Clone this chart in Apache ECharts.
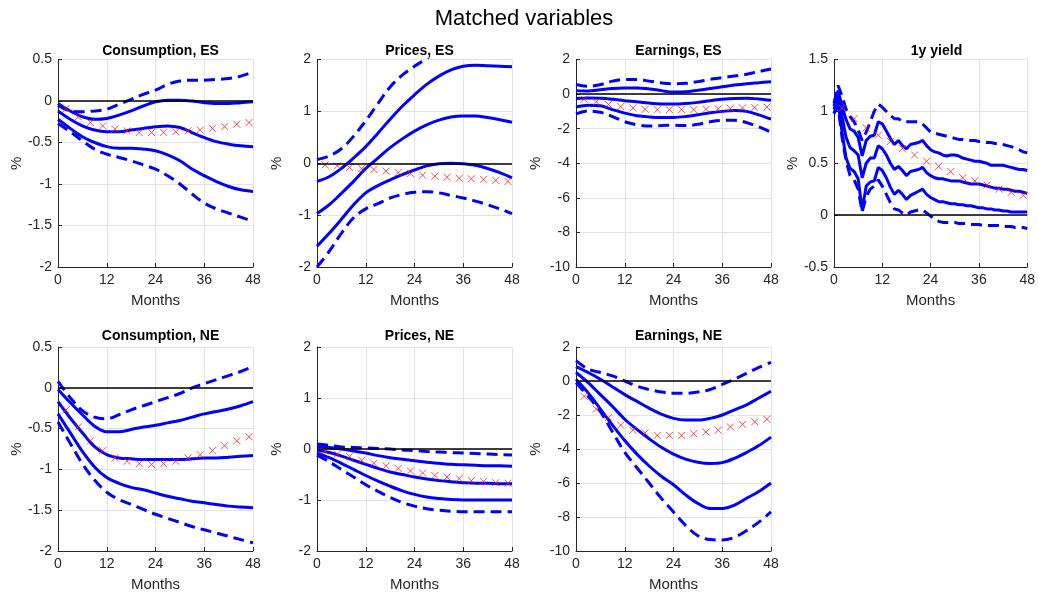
<!DOCTYPE html>
<html>
<head>
<meta charset="utf-8">
<title>Matched variables</title>
<script src="https://cdn.jsdelivr.net/npm/echarts@6/dist/echarts.min.js"></script>
<style>
    html, body { margin: 0; padding: 0; background: #fff; }
    #chart { width: 1038px; height: 594px; }
</style>
</head>
<body>
<div id="chart"></div>
<script>

    // horizons (months)
    const MONTHS = [0, 3, 6, 9, 12, 15, 18, 21, 24, 27, 30, 33, 36, 39, 42, 45, 48];
    const MONTHS_ALL = [0, 1, 2, 3, 4, 5, 6, 7, 8, 9, 10, 11, 12, 13, 14, 15, 16, 17, 18, 19, 20, 21, 22, 23, 24,
        25, 26, 27, 28, 29, 30, 31, 32, 33, 34, 35, 36, 37, 38, 39, 40, 41, 42, 43, 44, 45, 46, 47, 48];
    const MARKER_MONTHS = [2, 5, 8, 11, 14, 17, 20, 23, 26, 29, 32, 35, 38, 41, 44, 47];

    // Consumption, ES
    const consEsHiDash = [-0.05, -0.12, -0.13, -0.12, -0.1, -0.04, 0.02, 0.08, 0.13, 0.2, 0.24, 0.25, 0.25, 0.26, 0.27, 0.3, 0.35];
    const consEsHi = [-0.03, -0.12, -0.19, -0.22, -0.21, -0.17, -0.12, -0.06, -0.01, 0.01, 0.01, 0.0, -0.02, -0.03, -0.03, -0.02, -0.01];
    const consEsMid = [-0.12, -0.22, -0.3, -0.35, -0.37, -0.37, -0.35, -0.33, -0.31, -0.3, -0.32, -0.38, -0.44, -0.49, -0.52, -0.54, -0.55];
    const consEsLo = [-0.22, -0.33, -0.43, -0.5, -0.55, -0.57, -0.57, -0.58, -0.6, -0.65, -0.72, -0.82, -0.9, -0.97, -1.03, -1.07, -1.09];
    const consEsLoDash = [-0.27, -0.37, -0.48, -0.58, -0.64, -0.68, -0.72, -0.77, -0.82, -0.9, -1.0, -1.12, -1.23, -1.3, -1.35, -1.4, -1.45];
    const consEsTarget = [-0.09, -0.19, -0.26, -0.3, -0.34, -0.36, -0.38, -0.38, -0.38, -0.37, -0.36, -0.35, -0.33, -0.31, -0.28, -0.26];

    // Prices, ES
    const pricesEsHiDash = [0.07, 0.14, 0.28, 0.52, 0.82, 1.15, 1.47, 1.7, 1.87, 2.02, 2.2, 2.35, 2.5, 2.6, 2.7, 2.75, 2.8];
    const pricesEsHi = [-0.35, -0.26, -0.1, 0.1, 0.32, 0.58, 0.85, 1.1, 1.32, 1.52, 1.68, 1.8, 1.87, 1.89, 1.88, 1.87, 1.86];
    const pricesEsMid = [-0.97, -0.8, -0.58, -0.35, -0.1, 0.1, 0.3, 0.47, 0.62, 0.74, 0.83, 0.89, 0.91, 0.91, 0.88, 0.84, 0.79];
    const pricesEsLo = [-1.6, -1.35, -1.08, -0.8, -0.57, -0.43, -0.32, -0.22, -0.13, -0.05, -0.01, 0.0, -0.01, -0.04, -0.1, -0.18, -0.28];
    const pricesEsLoDash = [-2.0, -1.7, -1.35, -1.05, -0.88, -0.78, -0.67, -0.6, -0.56, -0.55, -0.57, -0.62, -0.67, -0.73, -0.8, -0.88, -0.97];
    const pricesEsTarget = [-0.03, -0.05, -0.08, -0.1, -0.12, -0.15, -0.18, -0.2, -0.23, -0.25, -0.27, -0.29, -0.3, -0.31, -0.33, -0.35];

    // Earnings, ES
    const earnEsHiDash = [0.55, 0.45, 0.55, 0.75, 0.85, 0.85, 0.75, 0.65, 0.6, 0.62, 0.72, 0.85, 0.95, 1.05, 1.15, 1.3, 1.45];
    const earnEsHi = [0.2, 0.18, 0.25, 0.32, 0.35, 0.35, 0.3, 0.2, 0.12, 0.13, 0.22, 0.32, 0.42, 0.52, 0.6, 0.66, 0.72];
    const earnEsMid = [-0.25, -0.22, -0.24, -0.3, -0.38, -0.45, -0.52, -0.57, -0.58, -0.55, -0.48, -0.38, -0.3, -0.25, -0.24, -0.28, -0.36];
    const earnEsLo = [-0.75, -0.65, -0.68, -0.9, -1.1, -1.25, -1.32, -1.35, -1.35, -1.3, -1.2, -1.08, -1.0, -0.95, -1.0, -1.2, -1.45];
    const earnEsLoDash = [-1.15, -0.98, -1.05, -1.3, -1.6, -1.78, -1.85, -1.82, -1.8, -1.82, -1.75, -1.6, -1.52, -1.52, -1.65, -1.9, -2.2];
    const earnEsTarget = [-0.3, -0.45, -0.6, -0.72, -0.8, -0.88, -0.9, -0.9, -0.9, -0.9, -0.88, -0.85, -0.82, -0.8, -0.78, -0.75];

    // 1y yield (monthly)
    const yieldHiDash = [1.08, 1.25, 1.15, 1.02, 0.95, 0.9, 0.82, 0.72, 0.8, 0.9, 1.0, 1.07, 1.04, 1.0, 0.96, 0.93, 0.93,
        0.9, 0.9, 0.9, 0.9, 0.9, 0.88, 0.84, 0.8, 0.79, 0.78, 0.77, 0.76, 0.75, 0.74, 0.73, 0.73, 0.72, 0.72, 0.72,
        0.71, 0.71, 0.7, 0.7, 0.69, 0.69, 0.68, 0.67, 0.66, 0.65, 0.63, 0.61, 0.6];
    const yieldHi = [1.05, 1.2, 1.05, 0.92, 0.83, 0.81, 0.75, 0.57, 0.72, 0.76, 0.77, 0.9, 0.88, 0.81, 0.74, 0.68, 0.72,
        0.67, 0.64, 0.68, 0.69, 0.7, 0.72, 0.67, 0.63, 0.61, 0.6, 0.58, 0.57, 0.58, 0.58, 0.57, 0.55, 0.54, 0.53, 0.52,
        0.52, 0.51, 0.5, 0.48, 0.48, 0.48, 0.48, 0.47, 0.46, 0.45, 0.44, 0.44, 0.43];
    const yieldMid = [1.02, 1.15, 0.95, 0.75, 0.65, 0.62, 0.58, 0.36, 0.5, 0.55, 0.55, 0.67, 0.64, 0.58, 0.5, 0.44, 0.47,
        0.43, 0.38, 0.42, 0.43, 0.44, 0.46, 0.41, 0.38, 0.36, 0.35, 0.35, 0.34, 0.33, 0.33, 0.33, 0.32, 0.31, 0.3, 0.3,
        0.3, 0.29, 0.28, 0.27, 0.26, 0.26, 0.25, 0.25, 0.24, 0.23, 0.23, 0.22, 0.21];
    const yieldLo = [0.98, 1.1, 0.8, 0.55, 0.45, 0.42, 0.35, 0.05, 0.28, 0.32, 0.33, 0.46, 0.43, 0.36, 0.27, 0.2, 0.24,
        0.2, 0.15, 0.19, 0.21, 0.23, 0.25, 0.2, 0.17, 0.15, 0.13, 0.13, 0.12, 0.11, 0.11, 0.1, 0.1, 0.09, 0.09, 0.08,
        0.07, 0.07, 0.06, 0.06, 0.05, 0.05, 0.04, 0.04, 0.03, 0.03, 0.03, 0.03, 0.03];
    const yieldLoDash = [0.98, 1.05, 0.75, 0.52, 0.38, 0.34, 0.25, 0.03, 0.18, 0.25, 0.28, 0.34, 0.28, 0.2, 0.12, 0.06, 0.05,
        0.02, 0.0, 0.03, 0.04, 0.05, 0.05, 0.02, -0.01, -0.04, -0.06, -0.07, -0.07, -0.07, -0.07, -0.08, -0.08, -0.08,
        -0.09, -0.09, -0.09, -0.1, -0.1, -0.1, -0.1, -0.1, -0.11, -0.11, -0.11, -0.12, -0.12, -0.12, -0.13];
    const yieldTarget = [1.03, 0.93, 0.84, 0.77, 0.71, 0.64, 0.58, 0.52, 0.47, 0.42, 0.36, 0.33, 0.29, 0.25, 0.22, 0.19];

    // Consumption, NE
    const consNeHiDash = [0.08, -0.12, -0.28, -0.36, -0.38, -0.33, -0.27, -0.22, -0.17, -0.12, -0.07, 0.0, 0.05, 0.1, 0.15, 0.2, 0.26];
    const consNeHi = [-0.02, -0.18, -0.33, -0.47, -0.54, -0.54, -0.51, -0.48, -0.46, -0.43, -0.4, -0.36, -0.32, -0.29, -0.26, -0.22, -0.17];
    const consNeMid = [-0.17, -0.37, -0.55, -0.72, -0.82, -0.86, -0.87, -0.88, -0.88, -0.88, -0.88, -0.87, -0.86, -0.86, -0.85, -0.84, -0.83];
    const consNeLo = [-0.32, -0.55, -0.78, -0.97, -1.1, -1.17, -1.22, -1.25, -1.29, -1.33, -1.36, -1.39, -1.41, -1.43, -1.45, -1.46, -1.47];
    const consNeLoDash = [-0.42, -0.68, -0.93, -1.13, -1.28, -1.37, -1.43, -1.49, -1.55, -1.6, -1.65, -1.7, -1.74, -1.78, -1.82, -1.86, -1.9];
    const consNeTarget = [-0.27, -0.48, -0.65, -0.77, -0.86, -0.9, -0.93, -0.94, -0.93, -0.9, -0.86, -0.82, -0.77, -0.71, -0.65, -0.6];

    // Prices, NE
    const pricesNeHiDash = [0.1, 0.07, 0.04, 0.03, 0.02, 0.01, 0.0, -0.02, -0.03, -0.05, -0.06, -0.07, -0.08, -0.09, -0.1, -0.11, -0.12];
    const pricesNeHi = [0.05, 0.03, 0.0, -0.04, -0.08, -0.13, -0.17, -0.2, -0.23, -0.26, -0.28, -0.3, -0.31, -0.32, -0.33, -0.33, -0.34];
    const pricesNeMid = [-0.02, -0.07, -0.14, -0.22, -0.3, -0.38, -0.45, -0.5, -0.55, -0.59, -0.62, -0.64, -0.66, -0.67, -0.67, -0.68, -0.68];
    const pricesNeLo = [-0.08, -0.17, -0.28, -0.4, -0.52, -0.63, -0.73, -0.82, -0.89, -0.94, -0.97, -0.99, -1.0, -1.0, -1.0, -1.0, -1.0];
    const pricesNeLoDash = [-0.12, -0.25, -0.4, -0.55, -0.7, -0.83, -0.95, -1.05, -1.12, -1.17, -1.2, -1.22, -1.23, -1.23, -1.23, -1.23, -1.23];
    const pricesNeTarget = [-0.04, -0.1, -0.15, -0.22, -0.28, -0.33, -0.38, -0.43, -0.47, -0.52, -0.55, -0.58, -0.62, -0.64, -0.66, -0.67];

    // Earnings, NE
    const earnNeHiDash = [1.2, 0.7, 0.5, 0.3, 0.0, -0.3, -0.5, -0.65, -0.72, -0.72, -0.65, -0.5, -0.2, 0.1, 0.45, 0.8, 1.1];
    const earnNeHi = [0.85, 0.5, 0.1, -0.35, -0.8, -1.2, -1.6, -1.95, -2.2, -2.3, -2.3, -2.2, -2.0, -1.7, -1.4, -1.0, -0.6];
    const earnNeMid = [0.5, -0.1, -0.8, -1.5, -2.25, -2.85, -3.4, -3.9, -4.3, -4.6, -4.78, -4.85, -4.8, -4.55, -4.2, -3.8, -3.3];
    const earnNeLo = [0.1, -0.7, -1.65, -2.6, -3.5, -4.3, -5.0, -5.6, -6.1, -6.7, -7.2, -7.5, -7.5, -7.3, -6.9, -6.5, -6.0];
    const earnNeLoDash = [-0.1, -0.9, -1.8, -3.0, -4.2, -5.1, -6.0, -6.9, -7.7, -8.5, -9.1, -9.33, -9.35, -9.2, -8.8, -8.3, -7.7];
    const earnNeTarget = [-0.9, -1.65, -2.15, -2.6, -2.9, -3.05, -3.2, -3.2, -3.2, -3.1, -3.0, -2.9, -2.7, -2.55, -2.4, -2.25];

    const BLUE = '#0000ff';
    const RED = '#ff1a1a';
    const INK = '#262626';
    const FONT = '"Liberation Sans", Arial, Helvetica, sans-serif';

    const COL_LEFT = [58, 317, 576, 834];
    const ROW_TOP = [59.5, 347];
    const ROW_HEIGHT = [207.5, 204];
    const TITLE_OFFSET = [20.5, 23];
    const PLOT_WIDTH = 195;

    const panels = [
        { title: 'Consumption, ES', x: MONTHS, smooth: 0.35, min: -2, max: 0.5, step: 0.5,
          lines: [consEsHiDash, consEsHi, consEsMid, consEsLo, consEsLoDash], target: consEsTarget },
        { title: 'Prices, ES', x: MONTHS, smooth: 0.35, min: -2, max: 2, step: 1,
          lines: [pricesEsHiDash, pricesEsHi, pricesEsMid, pricesEsLo, pricesEsLoDash], target: pricesEsTarget },
        { title: 'Earnings, ES', x: MONTHS, smooth: 0.35, min: -10, max: 2, step: 2,
          lines: [earnEsHiDash, earnEsHi, earnEsMid, earnEsLo, earnEsLoDash], target: earnEsTarget },
        { title: '1y yield', x: MONTHS_ALL, smooth: false, min: -0.5, max: 1.5, step: 0.5,
          lines: [yieldHiDash, yieldHi, yieldMid, yieldLo, yieldLoDash], target: yieldTarget },
        { title: 'Consumption, NE', x: MONTHS, smooth: 0.35, min: -2, max: 0.5, step: 0.5,
          lines: [consNeHiDash, consNeHi, consNeMid, consNeLo, consNeLoDash], target: consNeTarget },
        { title: 'Prices, NE', x: MONTHS, smooth: 0.35, min: -2, max: 2, step: 1,
          lines: [pricesNeHiDash, pricesNeHi, pricesNeMid, pricesNeLo, pricesNeLoDash], target: pricesNeTarget },
        { title: 'Earnings, NE', x: MONTHS, smooth: 0.35, min: -10, max: 2, step: 2,
          lines: [earnNeHiDash, earnNeHi, earnNeMid, earnNeLo, earnNeLoDash], target: earnNeTarget }
    ];
    const DASHED = [true, false, false, false, true];

    const pairs = (xs, ys) => xs.map((m, i) => [m, ys[i]]);

    const titles = [{
        text: 'Matched variables',
        left: 519,
        top: 3,
        textAlign: 'center',
        textStyle: { fontFamily: FONT, fontSize: 22, fontWeight: 'normal', color: '#000' }
    }];
    const grids = [], xAxes = [], yAxes = [], series = [];

    panels.forEach((p, i) => {
        const row = i < 4 ? 0 : 1;
        const col = i < 4 ? i : i - 4;
        const left = COL_LEFT[col];
        const top = ROW_TOP[row];

        grids.push({ left: left, top: top, width: PLOT_WIDTH, height: ROW_HEIGHT[row], containLabel: false });

        titles.push({
            text: p.title,
            left: left + PLOT_WIDTH / 2,
            top: top - TITLE_OFFSET[row],
            textAlign: 'center',
            textStyle: { fontFamily: FONT, fontSize: 14, fontWeight: 'bold', color: '#000' }
        });

        xAxes.push({
            gridIndex: i,
            type: 'value',
            min: 0,
            max: 48,
            interval: 12,
            name: 'Months',
            nameLocation: 'middle',
            nameGap: 26,
            nameTextStyle: { fontFamily: FONT, fontSize: 15, color: INK },
            axisLine: { onZero: false, lineStyle: { color: INK, width: 1 } },
            axisTick: { inside: true, length: 4, lineStyle: { color: INK } },
            axisLabel: { fontFamily: FONT, fontSize: 14, color: INK, margin: 6 },
            splitLine: { show: true, lineStyle: { color: '#e3e3e3', width: 1 } }
        });

        yAxes.push({
            gridIndex: i,
            type: 'value',
            min: p.min,
            max: p.max,
            interval: p.step,
            name: '%',
            nameLocation: 'middle',
            nameRotate: 90,
            nameGap: 33,
            nameTextStyle: { fontFamily: FONT, fontSize: 15, color: INK },
            axisLine: { show: true, onZero: false, lineStyle: { color: INK, width: 1 } },
            axisTick: { show: true, inside: true, length: 4, lineStyle: { color: INK } },
            axisLabel: { fontFamily: FONT, fontSize: 14, color: INK, margin: 6 },
            splitLine: { show: true, lineStyle: { color: '#e3e3e3', width: 1 } }
        });

        // zero reference line
        series.push({
            type: 'line',
            xAxisIndex: i,
            yAxisIndex: i,
            data: [],
            z: 2,
            markLine: {
                silent: true,
                symbol: ['none', 'none'],
                label: { show: false },
                lineStyle: { color: '#000', width: 1.5, type: 'solid' },
                data: [{ yAxis: 0 }]
            }
        });

        p.lines.forEach((ys, k) => {
            series.push({
                type: 'line',
                xAxisIndex: i,
                yAxisIndex: i,
                data: pairs(p.x, ys),
                showSymbol: false,
                smooth: p.smooth,
                z: 3,
                lineStyle: { color: BLUE, width: 3, type: DASHED[k] ? [11, 6] : 'solid' }
            });
        });

        series.push({
            type: 'scatter',
            xAxisIndex: i,
            yAxisIndex: i,
            data: pairs(MARKER_MONTHS, p.target),
            symbol: 'path://M0,0L10,10M10,0L0,10',
            symbolSize: 7,
            z: 4,
            itemStyle: { color: 'none', borderColor: RED, borderWidth: 1 }
        });
    });

    const chart = echarts.init(document.getElementById('chart'), null, { renderer: 'canvas' });
    chart.setOption({
        animation: false,
        backgroundColor: '#fff',
        title: titles,
        grid: grids,
        xAxis: xAxes,
        yAxis: yAxes,
        series: series
    });

</script>
</body>
</html>
